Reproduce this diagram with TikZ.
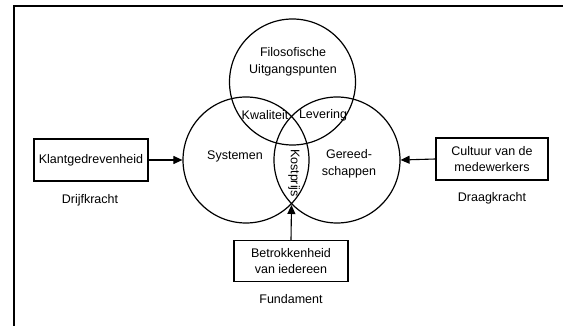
\documentclass[tikz,border=0pt]{standalone}
\usepackage{fontspec}
\setmainfont{Liberation Sans}
\usetikzlibrary{arrows.meta}
\newcommand\lblfont{\fontsize{12.5}{16.5}\selectfont}
\begin{document}
\begin{tikzpicture}[x=1pt,y=-1pt,
  ring/.style={draw, circle, line width=1.2pt, minimum size=126pt, inner sep=0pt},
  boxnode/.style={draw, line width=1.1pt, align=center, inner sep=0pt, font=\lblfont},
  lbl/.style={font=\lblfont, align=center, inner sep=0pt},
  arr/.style={line width=1.1pt, -{Triangle[length=9pt,width=8pt]}}]
\useasboundingbox (0,0) rectangle (563,326);
% frame
\draw[line width=2pt] (14,326) -- (14,6) -- (563,6);
% circles
\node[ring] (ctop) at (292.5,82) {};
\node[ring] (cleft) at (246,160) {};
\node[ring] (cright) at (337,160) {};
\coordinate (lens) at (291.5,205);
% circle texts
\node[lbl] (filo) at (293,62) {Filosofische\\Uitgangspunten};
\node[lbl] (kwal) at (265,115) {Kwaliteit};
\node[lbl] (lev) at (323,115) {Levering};
\node[lbl] (sys) at (235,156) {Systemen};
\node[lbl] (ger) at (349,164) {Gereed-\\schappen};
\node[lbl, rotate=-90] (kost) at (294,173) {Kostprijs};
% boxes
\node[boxnode, minimum width=114pt, minimum height=42pt] (klant) at (91,160) {Klantgedrevenheid};
\node[boxnode, minimum width=112pt, minimum height=42pt] (cult) at (492,159) {Cultuur van de\\medewerkers};
\node[boxnode, minimum width=114pt, minimum height=41pt] (betr) at (291,261) {Betrokkenheid\\van iedereen};
% captions
\node[lbl] (drijf) at (90,200) {Drijfkracht};
\node[lbl] (draag) at (492,198) {Draagkracht};
\node[lbl] (fund) at (291,299) {Fundament};
% arrows
\draw[arr] (klant.east) -- (cleft.west);
\draw[arr] (cult.west) -- (cright.east);
\draw[arr] (betr.north) -- (lens);
\end{tikzpicture}
\end{document}
